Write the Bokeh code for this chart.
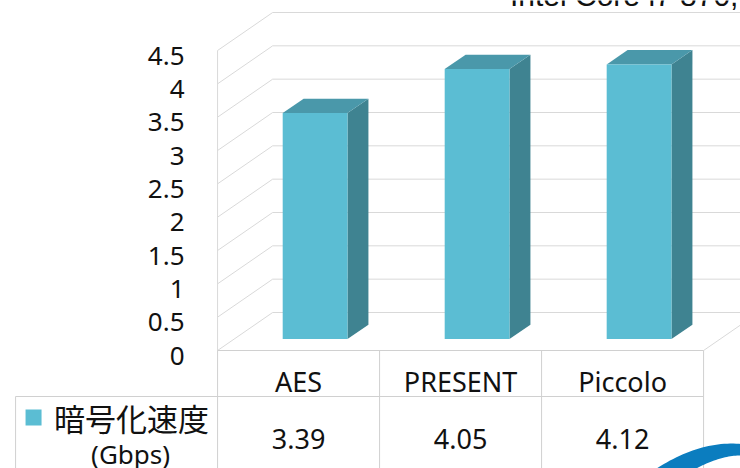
import numpy as np
from bokeh.plotting import figure
from bokeh.models import Range1d
from bokeh.embed import file_html
from bokeh.resources import INLINE
from bokeh.core.properties import value

# ---- data ----
categories = ["AES", "PRESENT", "Piccolo"]
speeds = [3.39, 4.05, 4.12]
speed_labels = ["3.39", "4.05", "4.12"]
y_ticks = [0, 0.5, 1, 1.5, 2, 2.5, 3, 3.5, 4, 4.5]
y_tick_labels = ["0", "0.5", "1", "1.5", "2", "2.5", "3", "3.5", "4", "4.5"]
series_name = "暗号化速度"
series_unit = "(Gbps)"
caption = "Intel Core i7 870,"

# ---- 3D projection: depth 0 = front plane, depth 1 = back wall ----
DX = 0.34      # horizontal shift (category units) at full depth
DY = 0.57      # vertical shift (value units) at full depth
BAR_L, BAR_R = 0.30, 0.70    # bar extent inside its category slot
BAR_D0, BAR_D1 = 0.30, 0.68  # bar depth extent
Y_MAX = 4.5

# table layout (chart units)
HEADER_BOTTOM = -0.69
LEFT_CELL = -1.247
CAT_ROW_Y = -0.465
VAL_ROW_Y = -1.32

X_RANGE = (-1.34, 3.228)
Y_RANGE = (-1.77, 5.25)

GRID = "#d9d9d9"
TABLE = "#d0d0d0"
FRONT = "#5bbdd3"
SIDE = "#3f8391"
TOP = "#4a98aa"
TEXT = "#111111"
LATIN = value("Noto Sans")
CJK = value("Noto Sans CJK JP")


def proj(u, v, d):
    return u + d * DX, v + d * DY


p = figure(width=740, height=468, output_backend="svg", toolbar_location=None,
           x_range=Range1d(*X_RANGE), y_range=Range1d(*Y_RANGE),
           x_axis_type=None, y_axis_type=None, min_border=0)
p.grid.visible = False
p.outline_line_color = None
p.background_fill_color = "white"

n = len(categories)

# back wall gridlines
for t in y_ticks:
    x0, y0 = proj(0, t, 1)
    p.line([x0, n + DX + 1], [y0, y0], line_color=GRID, line_width=1)
# left wall diagonals
for t in y_ticks:
    a = proj(0, t, 0)
    b = proj(0, t, 1)
    p.line([a[0], b[0]], [a[1], b[1]], line_color=GRID, line_width=1)
# left wall front edge
p.line([0, 0], [0, Y_MAX], line_color=GRID, line_width=1)
# floor right edge
a = proj(n, 0, 0)
b = proj(n, 0, 1)
p.line([a[0], b[0]], [a[1], b[1]], line_color=GRID, line_width=1)

# bars: front, side and top faces
for i, v in enumerate(speeds):
    u0, u1 = i + BAR_L, i + BAR_R
    side = [proj(u1, 0, BAR_D0), proj(u1, 0, BAR_D1), proj(u1, v, BAR_D1), proj(u1, v, BAR_D0)]
    top = [proj(u0, v, BAR_D0), proj(u1, v, BAR_D0), proj(u1, v, BAR_D1), proj(u0, v, BAR_D1)]
    front = [proj(u0, 0, BAR_D0), proj(u1, 0, BAR_D0), proj(u1, v, BAR_D0), proj(u0, v, BAR_D0)]
    for poly, col in ((side, SIDE), (top, TOP), (front, FRONT)):
        p.patch([q[0] for q in poly], [q[1] for q in poly], fill_color=col, line_color=None)

# y tick labels on the front plane
p.text(x=[-0.204] * len(y_ticks), y=y_ticks, text=y_tick_labels,
       text_align="right", text_baseline="middle", y_offset=5,
       text_font=LATIN, text_font_size="26px", text_color=TEXT)

# data table
ybot = Y_RANGE[0]
p.line([0, n], [0, 0], line_color=TABLE, line_width=1)
for k in range(n + 1):
    p.line([k, k], [0, ybot], line_color=TABLE, line_width=1)
p.line([LEFT_CELL, n], [HEADER_BOTTOM, HEADER_BOTTOM], line_color=TABLE, line_width=1)
p.line([LEFT_CELL, LEFT_CELL], [HEADER_BOTTOM, ybot], line_color=TABLE, line_width=1)

centers = [i + 0.5 for i in range(n)]
p.text(x=centers, y=[CAT_ROW_Y] * n, text=categories, text_align="center",
       text_baseline="middle", text_font=LATIN, text_font_size="27px", text_color=TEXT)
p.text(x=centers, y=[VAL_ROW_Y] * n, text=speed_labels, text_align="center",
       text_baseline="middle", text_font=LATIN, text_font_size="27px", text_color=TEXT)

# legend key and series name
p.scatter(x=[-1.136], y=[-1.005], marker="square", size=16, fill_color=FRONT, line_color=None)
p.text(x=[-0.531], y=[-1.0], text=[series_name], text_align="center",
       text_baseline="middle", text_font=CJK, text_font_size="31px", text_color=TEXT)
p.text(x=[-0.537], y=[-1.55], text=[series_unit], text_align="center",
       text_baseline="middle", text_font=LATIN, text_font_size="26px", text_color=TEXT)

# caption at the top, running off the page edge
p.text(x=[1.805], y=[5.325], text=[caption], text_align="left",
       text_baseline="alphabetic", text_font=value("Liberation Sans"),
       text_font_size="30px", text_color=TEXT)

# logo swoosh in the lower-right corner
def qbez(p0, p1, p2, m=30):
    t = np.linspace(0, 1, m)[:, None]
    return (1 - t) ** 2 * np.array(p0) + 2 * (1 - t) * t * np.array(p1) + t ** 2 * np.array(p2)

upper = qbez((2.691, -1.80), (2.988, -1.32), (3.259, -1.41))
lower = qbez((2.932, -1.80), (3.114, -1.5525), (3.259, -1.575))
outline = np.vstack([upper, lower[::-1]])
p.patch(outline[:, 0], outline[:, 1], fill_color="#0b7dbf", line_color=None)

open("out.html", "w").write(file_html(p, INLINE))
